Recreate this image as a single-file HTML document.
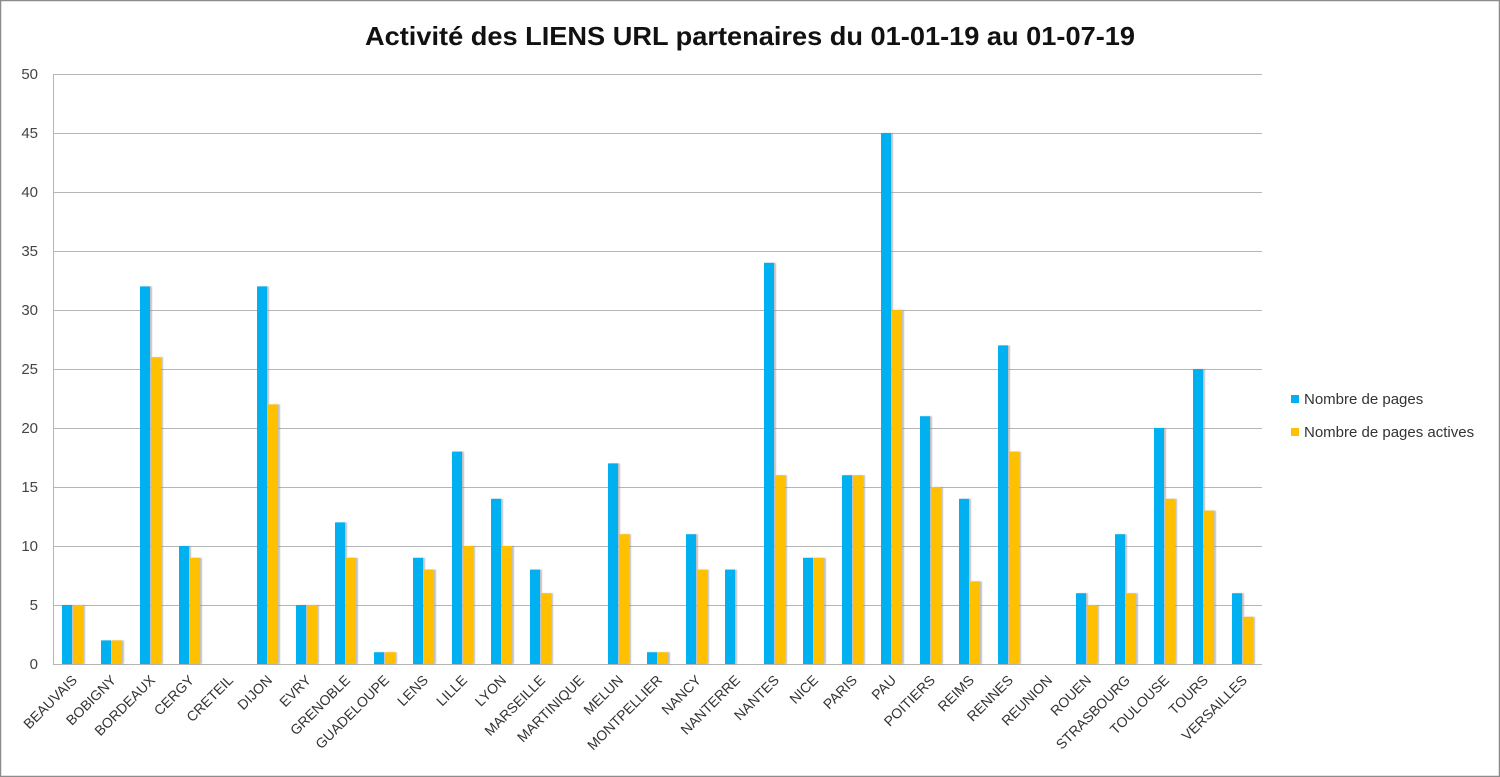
<!DOCTYPE html>
<html><head><meta charset="utf-8"><style>
html,body{margin:0;padding:0;background:#fff;}
svg{display:block;font-family:"Liberation Sans",sans-serif;}
</style></head><body>
<svg width="1500" height="777" viewBox="0 0 1500 777" xmlns="http://www.w3.org/2000/svg">
<defs><filter id="sh" x="-20%" y="-5%" width="160%" height="110%"><feDropShadow dx="2" dy="0" stdDeviation="0.6" flood-color="#999" flood-opacity="0.6"/></filter></defs>
<rect x="0.5" y="0.5" width="1499" height="776" fill="#fff" stroke="#8c8c8c" stroke-width="1.5"/>
<text x="365" y="45" textLength="770" lengthAdjust="spacingAndGlyphs" font-size="26" font-weight="bold" fill="#111">Activité des LIENS URL partenaires du 01-01-19 au 01-07-19</text>
<g stroke="#b5b5b5" stroke-width="1">
<line x1="53" x2="1262" y1="74.5" y2="74.5"/><line x1="53" x2="1262" y1="133.5" y2="133.5"/><line x1="53" x2="1262" y1="192.5" y2="192.5"/><line x1="53" x2="1262" y1="251.5" y2="251.5"/><line x1="53" x2="1262" y1="310.5" y2="310.5"/><line x1="53" x2="1262" y1="369.5" y2="369.5"/><line x1="53" x2="1262" y1="428.5" y2="428.5"/><line x1="53" x2="1262" y1="487.5" y2="487.5"/><line x1="53" x2="1262" y1="546.5" y2="546.5"/><line x1="53" x2="1262" y1="605.5" y2="605.5"/><line x1="53" x2="1262" y1="664.5" y2="664.5"/>
<line x1="53.5" x2="53.5" y1="74" y2="665"/>
</g>
<g font-size="15" fill="#444" text-anchor="end">
<text x="38" y="79">50</text><text x="38" y="138">45</text><text x="38" y="197">40</text><text x="38" y="256">35</text><text x="38" y="315">30</text><text x="38" y="374">25</text><text x="38" y="433">20</text><text x="38" y="492">15</text><text x="38" y="551">10</text><text x="38" y="610">5</text><text x="38" y="669">0</text>
</g>
<g transform="translate(0,664) scale(1,-1)" filter="url(#sh)">
<g fill="#00b0f0">
<rect x="62" y="0" width="10" height="59"/><rect x="101" y="0" width="10" height="23.6"/><rect x="140" y="0" width="10" height="377.6"/><rect x="179" y="0" width="10" height="118"/><rect x="257" y="0" width="10" height="377.6"/><rect x="296" y="0" width="10" height="59"/><rect x="335" y="0" width="10" height="141.6"/><rect x="374" y="0" width="10" height="11.8"/><rect x="413" y="0" width="10" height="106.2"/><rect x="452" y="0" width="10" height="212.4"/><rect x="491" y="0" width="10" height="165.2"/><rect x="530" y="0" width="10" height="94.4"/><rect x="608" y="0" width="10" height="200.6"/><rect x="647" y="0" width="10" height="11.8"/><rect x="686" y="0" width="10" height="129.8"/><rect x="725" y="0" width="10" height="94.4"/><rect x="764" y="0" width="10" height="401.2"/><rect x="803" y="0" width="10" height="106.2"/><rect x="842" y="0" width="10" height="188.8"/><rect x="881" y="0" width="10" height="531"/><rect x="920" y="0" width="10" height="247.8"/><rect x="959" y="0" width="10" height="165.2"/><rect x="998" y="0" width="10" height="318.6"/><rect x="1076" y="0" width="10" height="70.8"/><rect x="1115" y="0" width="10" height="129.8"/><rect x="1154" y="0" width="10" height="236"/><rect x="1193" y="0" width="10" height="295"/><rect x="1232" y="0" width="10" height="70.8"/>
</g>
<g fill="#ffc000">
<rect x="73" y="0" width="10" height="59"/><rect x="112" y="0" width="10" height="23.6"/><rect x="151" y="0" width="10" height="306.8"/><rect x="190" y="0" width="10" height="106.2"/><rect x="268" y="0" width="10" height="259.6"/><rect x="307" y="0" width="10" height="59"/><rect x="346" y="0" width="10" height="106.2"/><rect x="385" y="0" width="10" height="11.8"/><rect x="424" y="0" width="10" height="94.4"/><rect x="463" y="0" width="10" height="118"/><rect x="502" y="0" width="10" height="118"/><rect x="541" y="0" width="10" height="70.8"/><rect x="619" y="0" width="10" height="129.8"/><rect x="658" y="0" width="10" height="11.8"/><rect x="697" y="0" width="10" height="94.4"/><rect x="775" y="0" width="10" height="188.8"/><rect x="814" y="0" width="10" height="106.2"/><rect x="853" y="0" width="10" height="188.8"/><rect x="892" y="0" width="10" height="354"/><rect x="931" y="0" width="10" height="177"/><rect x="970" y="0" width="10" height="82.6"/><rect x="1009" y="0" width="10" height="212.4"/><rect x="1087" y="0" width="10" height="59"/><rect x="1126" y="0" width="10" height="70.8"/><rect x="1165" y="0" width="10" height="165.2"/><rect x="1204" y="0" width="10" height="153.4"/><rect x="1243" y="0" width="10" height="47.2"/>
</g>
</g>
<g font-size="14" fill="#333" text-anchor="end">
<text transform="translate(78,681) rotate(-45)">BEAUVAIS</text>
<text transform="translate(117,681) rotate(-45)">BOBIGNY</text>
<text transform="translate(156,681) rotate(-45)">BORDEAUX</text>
<text transform="translate(195,681) rotate(-45)">CERGY</text>
<text transform="translate(234,681) rotate(-45)">CRETEIL</text>
<text transform="translate(273,681) rotate(-45)">DIJON</text>
<text transform="translate(312,681) rotate(-45)">EVRY</text>
<text transform="translate(351,681) rotate(-45)">GRENOBLE</text>
<text transform="translate(390,681) rotate(-45)">GUADELOUPE</text>
<text transform="translate(429,681) rotate(-45)">LENS</text>
<text transform="translate(468,681) rotate(-45)">LILLE</text>
<text transform="translate(507,681) rotate(-45)">LYON</text>
<text transform="translate(546,681) rotate(-45)">MARSEILLE</text>
<text transform="translate(585,681) rotate(-45)">MARTINIQUE</text>
<text transform="translate(624,681) rotate(-45)">MELUN</text>
<text transform="translate(663,681) rotate(-45)">MONTPELLIER</text>
<text transform="translate(702,681) rotate(-45)">NANCY</text>
<text transform="translate(741,681) rotate(-45)">NANTERRE</text>
<text transform="translate(780,681) rotate(-45)">NANTES</text>
<text transform="translate(819,681) rotate(-45)">NICE</text>
<text transform="translate(858,681) rotate(-45)">PARIS</text>
<text transform="translate(897,681) rotate(-45)">PAU</text>
<text transform="translate(936,681) rotate(-45)">POITIERS</text>
<text transform="translate(975,681) rotate(-45)">REIMS</text>
<text transform="translate(1014,681) rotate(-45)">RENNES</text>
<text transform="translate(1053,681) rotate(-45)">REUNION</text>
<text transform="translate(1092,681) rotate(-45)">ROUEN</text>
<text transform="translate(1131,681) rotate(-45)">STRASBOURG</text>
<text transform="translate(1170,681) rotate(-45)">TOULOUSE</text>
<text transform="translate(1209,681) rotate(-45)">TOURS</text>
<text transform="translate(1248,681) rotate(-45)">VERSAILLES</text>
</g>
<rect x="1291" y="395" width="8" height="8" fill="#00b0f0"/>
<text x="1304" y="404" font-size="15" fill="#333">Nombre de pages</text>
<rect x="1291" y="428" width="8" height="8" fill="#ffc000"/>
<text x="1304" y="437" font-size="15" fill="#333">Nombre de pages actives</text>
</svg>
</body></html>
